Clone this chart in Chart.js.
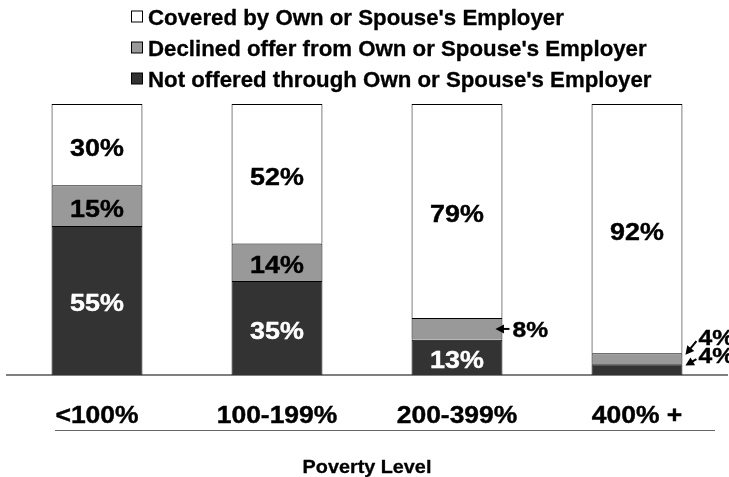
<!DOCTYPE html>
<html>
<head>
<meta charset="utf-8">
<style>
html,body{margin:0;padding:0;background:#fff;}
#wrap{width:729px;height:477px;}
</style>
<script src="https://cdn.jsdelivr.net/npm/chart.js@4/dist/chart.umd.min.js"></script>
</head>
<body>
<div id="wrap"><canvas id="c" width="729" height="477"></canvas></div>
<script>
// ---- data ----
const categories = ['<100%', '100-199%', '200-399%', '400% +'];
const seriesNames = [
  'Covered by Own or Spouse\'s Employer',
  'Declined offer from Own or Spouse\'s Employer',
  'Not offered through Own or Spouse\'s Employer'
];
const covered    = [30, 52, 79, 92];
const declined   = [15, 14, 8, 4];
const notOffered = [55, 35, 13, 4];
const axisTitle = 'Poverty Level';

const COLORS = { covered: '#ffffff', declined: '#999999', notOffered: '#333333' };
const FONT = "'Liberation Sans', Arial, Helvetica, sans-serif";

// 100% stacked: each bar is normalised to its own total
const totals = categories.map((_, i) => covered[i] + declined[i] + notOffered[i]);
const share = arr => arr.map((v, i) => v / totals[i] * 100);

const raw = [notOffered, declined, covered];

function stretchedText(ctx, text, x, y, size, sx, color, align, heavy) {
  ctx.save();
  ctx.font = 'bold ' + size + 'px ' + FONT;
  ctx.fillStyle = color;
  ctx.strokeStyle = color;
  ctx.textBaseline = 'alphabetic';
  ctx.textAlign = 'left';
  const w = ctx.measureText(text).width * sx;
  let left = x;
  if (align === 'center') left = x - w / 2;
  ctx.translate(left, y);
  ctx.scale(sx, 1);
  ctx.fillText(text, 0, 0);
  if (heavy) {
    ctx.lineWidth = heavy;
    ctx.lineJoin = 'round';
    ctx.strokeText(text, 0, 0);
  }
  ctx.restore();
  return w;
}

function arrow(ctx, x1, y1, x2, y2) {
  const ang = Math.atan2(y2 - y1, x2 - x1);
  const L = 8.5, W = 4.5;
  ctx.save();
  ctx.strokeStyle = '#000';
  ctx.fillStyle = '#000';
  ctx.lineWidth = 2;
  ctx.beginPath();
  ctx.moveTo(x1, y1);
  ctx.lineTo(x2 - Math.cos(ang) * L * 0.8, y2 - Math.sin(ang) * L * 0.8);
  ctx.stroke();
  ctx.beginPath();
  ctx.moveTo(x2, y2);
  ctx.lineTo(x2 - Math.cos(ang) * L - Math.sin(ang) * W, y2 - Math.sin(ang) * L + Math.cos(ang) * W);
  ctx.lineTo(x2 - Math.cos(ang) * L + Math.sin(ang) * W, y2 - Math.sin(ang) * L - Math.cos(ang) * W);
  ctx.closePath();
  ctx.fill();
  ctx.restore();
}

const decorPlugin = {
  id: 'decor',
  afterDraw(chart) {
    const ctx = chart.ctx;
    const xs = chart.scales.x;

    // legend (top, stacked vertically)
    const legendOrder = [
      { name: seriesNames[0], color: COLORS.covered },
      { name: seriesNames[1], color: COLORS.declined },
      { name: seriesNames[2], color: COLORS.notOffered }
    ];
    legendOrder.forEach((it, k) => {
      const base = 24.5 + k * 31;
      ctx.save();
      ctx.fillStyle = it.color;
      ctx.strokeStyle = '#000';
      ctx.lineWidth = 1;
      ctx.fillRect(131.5, base - 13.5, 11, 11);
      ctx.strokeRect(131.5, base - 13.5, 11, 11);
      ctx.restore();
      stretchedText(ctx, it.name, 148, base, 21.5, 1.035, '#000', 'left', 0.3);
    });

    // category labels
    categories.forEach((c, i) => {
      const x = xs.getPixelForValue(i);
      stretchedText(ctx, c, x, 422.5, 23, 1.15, '#000', 'center', 0.4);
    });

    // separator line + axis title
    ctx.save();
    ctx.strokeStyle = '#666';
    ctx.lineWidth = 1;
    ctx.beginPath();
    ctx.moveTo(55, 430.5);
    ctx.lineTo(715, 430.5);
    ctx.stroke();
    ctx.restore();
    stretchedText(ctx, axisTitle, (chart.chartArea.left + chart.chartArea.right) / 2, 473, 18, 1.1, '#000', 'center', 0.3);

    // data labels
    categories.forEach((c, i) => {
      const small = [];
      chart.data.datasets.forEach((ds, d) => {
        const el = chart.getDatasetMeta(d).data[i];
        const p = el.getProps(['x', 'y', 'base', 'width'], true);
        const top = Math.min(p.y, p.base), bot = Math.max(p.y, p.base);
        const h = bot - top;
        const cy = (top + bot) / 2;
        const right = p.x + p.width / 2;
        const txt = raw[d][i] + '%';
        if (h >= 30) {
          const col = d === 0 ? '#fff' : '#000';
          stretchedText(ctx, txt, p.x, cy + 11, 24, 1.12, col, 'center', 0.4);
        } else if (h >= 15) {
          arrow(ctx, right + 7, cy, right - 7, cy);
          stretchedText(ctx, txt, right + 10, cy + 8.5, 22, 1.12, '#000', 'left', 0.4);
        } else {
          small.push({ txt, cy, right });
        }
      });
      // small segments: stacked callouts with diagonal arrows
      let prevBase = null;
      small.forEach((s, k) => {
        const base = k === 0 ? s.cy - 6.5 : Math.min(s.cy - 6.5, prevBase - 18);
        prevBase = base;
        const tipX = s.right + 3, tipY = s.cy - 4;
        const tailX = tipX + 11, tailY = base - 4;
        arrow(ctx, tailX, tailY, tipX, tipY);
        stretchedText(ctx, s.txt, tailX + 2, base, 22, 1.12, '#000', 'left', 0.4);
      });
    });
  }
};

new Chart(document.getElementById('c'), {
  type: 'bar',
  data: {
    labels: categories,
    datasets: [
      { label: seriesNames[2], data: share(notOffered), backgroundColor: COLORS.notOffered },
      { label: seriesNames[1], data: share(declined), backgroundColor: COLORS.declined },
      { label: seriesNames[0], data: share(covered), backgroundColor: COLORS.covered }
    ].map(d => Object.assign(d, {
      borderColor: '#000', borderWidth: 1,
      categoryPercentage: 1, barPercentage: 0.505
    }))
  },
  options: {
    responsive: false,
    animation: false,
    devicePixelRatio: 1,
    layout: { padding: { top: 104, left: 7, right: 2, bottom: 0 } },
    plugins: { legend: { display: false }, tooltip: { enabled: false }, title: { display: false } },
    scales: {
      x: {
        stacked: true,
        grid: { display: false, drawTicks: false },
        border: { display: true, color: '#808080', width: 2 },
        ticks: { display: false },
        afterFit(s) { s.height = 102; }
      },
      y: {
        stacked: true, display: false, min: 0, max: 100
      }
    }
  },
  plugins: [decorPlugin]
});
</script>
</body>
</html>
